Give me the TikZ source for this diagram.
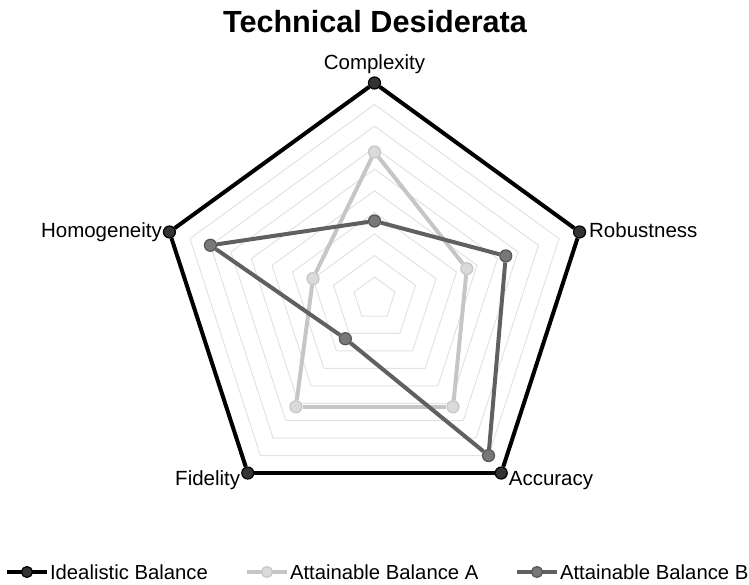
\documentclass[tikz,border=0pt]{standalone}
\usepackage{fontspec}
\setmainfont{Liberation Sans}
\usetikzlibrary{positioning}

\definecolor{gridgrey}{HTML}{E2E2E2}
\definecolor{idealfill}{HTML}{333333}
\definecolor{aline}{HTML}{C6C6C6}
\definecolor{afill}{HTML}{DADADA}
\definecolor{bline}{HTML}{606060}
\definecolor{bfill}{HTML}{787878}

\tikzset{
  gridline/.style={draw=gridgrey, line width=1pt, line join=miter},
  idealedge/.style={draw=black, line width=4pt},
  aedge/.style={draw=aline, line width=4pt},
  bedge/.style={draw=bline, line width=4pt},
  dotbase/.style={circle, inner sep=0pt, minimum size=12pt, line width=1.2pt},
  idot/.style={dotbase, draw=black, fill=idealfill},
  adot/.style={dotbase, draw=aline, fill=afill},
  bdot/.style={dotbase, draw=bline!90!black, fill=bfill},
  lbl/.style={inner sep=0pt, outer sep=0pt, font=\fontsize{20.5}{24}\selectfont},
  keytext/.style={inner sep=0pt, outer sep=0pt, anchor=west, font=\fontsize{20.3}{24}\selectfont},
}

\begin{document}
\begin{tikzpicture}[x=1pt, y=1pt]
\useasboundingbox (0,0) rectangle (749,584);

\node[anchor=base, inner sep=0pt, font=\fontsize{30.6}{36}\selectfont\bfseries] (title) at (375,551) {Technical Desiderata};

\begin{scope}[shift={(374.5,285.4)}]
% grid rings
\foreach \r in {21.56,43.12,64.68,86.24,107.8,129.36,150.92,172.48,194.04}
  \draw[gridline] (90:\r) -- (18:\r) -- (-54:\r) -- (-126:\r) -- (162:\r) -- cycle;

% attainable balance A
\node[adot] (a1) at (90:146.6) {};
\node[adot] (a2) at (18:97.0) {};
\node[adot] (a3) at (-54:133.7) {};
\node[adot] (a4) at (-126:133.7) {};
\node[adot] (a5) at (162:64.7) {};

\path[aedge] (a1) -- (a2);
\path[aedge] (a2) -- (a3);
\path[aedge] (a3) -- (a4);
\path[aedge] (a4) -- (a5);
\path[aedge] (a5) -- (a1);

% attainable balance B
\node[bdot] (b1) at (90:77.6) {};
\node[bdot] (b2) at (18:138.0) {};
\node[bdot] (b3) at (-54:194.0) {};
\node[bdot] (b4) at (-126:49.6) {};
\node[bdot] (b5) at (162:172.5) {};

\path[bedge] (b1) -- (b2);
\path[bedge] (b2) -- (b3);
\path[bedge] (b3) -- (b4);
\path[bedge] (b4) -- (b5);
\path[bedge] (b5) -- (b1);

% idealistic balance
\node[idot] (i1) at (90:215.6) {};
\node[idot] (i2) at (18:215.6) {};
\node[idot] (i3) at (-54:215.6) {};
\node[idot] (i4) at (-126:215.6) {};
\node[idot] (i5) at (162:215.6) {};

\path[idealedge] (i1) -- (i2);
\path[idealedge] (i2) -- (i3);
\path[idealedge] (i3) -- (i4);
\path[idealedge] (i4) -- (i5);
\path[idealedge] (i5) -- (i1);
\end{scope}

% axis labels
\node[lbl, above=3pt of i1] (complexity) {Complexity};
\node[lbl, right=3pt of i2, yshift=2pt] (robustness) {Robustness};
\node[lbl, right=1pt of i3, yshift=-8pt] (accuracy) {Accuracy};
\node[lbl, left=1pt of i4, yshift=-7pt] (fidelity) {Fidelity};
\node[lbl, left=1pt of i5] (homogeneity) {Homogeneity};

% legend
\coordinate (k1a) at (7,12);
\coordinate (k1b) at (47,12);
\path[idealedge] (k1a) -- (k1b);
\node[idot, minimum size=11pt] (k1) at (27,12) {};
\node[keytext, right=3pt of k1b] (k1t) {Idealistic Balance};

\coordinate (k2a) at (247,12);
\coordinate (k2b) at (287,12);
\path[aedge] (k2a) -- (k2b);
\node[adot, minimum size=11pt] (k2) at (267,12) {};
\node[keytext, right=3pt of k2b] (k2t) {Attainable Balance A};

\coordinate (k3a) at (517,12);
\coordinate (k3b) at (557,12);
\path[bedge] (k3a) -- (k3b);
\node[bdot, minimum size=11pt] (k3) at (537,12) {};
\node[keytext, right=3pt of k3b] (k3t) {Attainable Balance B};
\end{tikzpicture}
\end{document}
